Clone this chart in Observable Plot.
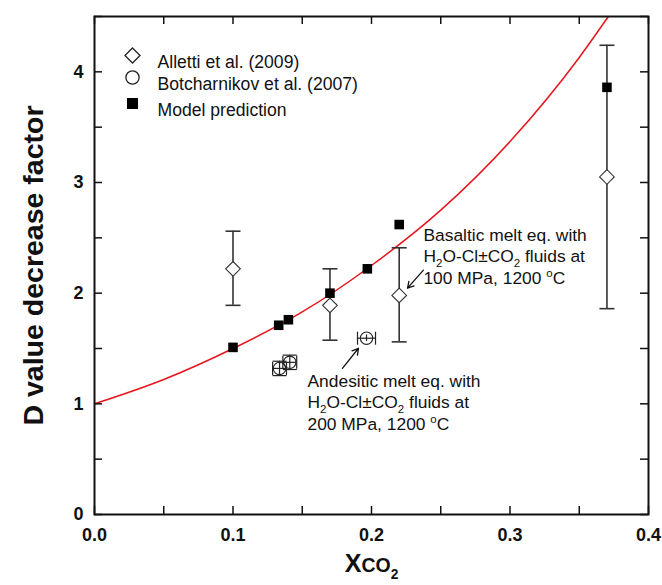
<!DOCTYPE html>
<html><head><meta charset="utf-8">
<script src="https://cdn.jsdelivr.net/npm/d3@7"></script>
<script src="https://cdn.jsdelivr.net/npm/@observablehq/plot@0.6"></script>
<style>body{margin:0;background:#fff} #chart{width:662px;height:585px}</style>
</head><body><div id="chart"></div>
<script>
// ---- data ----
const modelX = [0.10, 0.133, 0.14, 0.17, 0.197, 0.22, 0.37];
const modelY = [1.51, 1.71, 1.76, 2.00, 2.22, 2.62, 3.86];

const allettiX = [0.10, 0.17, 0.22, 0.37];
const allettiY = [2.22, 1.89, 1.98, 3.05];
const allettiLow = [1.89, 1.575, 1.56, 1.86];
const allettiHigh = [2.56, 2.22, 2.41, 4.24];

const botX = [0.1336, 0.141, 0.1964];
const botY = [1.32, 1.375, 1.593];
const botXErr = [0.005, 0.005, 0.0065];
const botYErr = [0.065, 0.065, 0.03];

const curveX = [0, 0.05, 0.10, 0.15, 0.20, 0.25, 0.30, 0.35, 0.371];
const curveY = [1.00, 1.22, 1.50, 1.83, 2.25, 2.75, 3.37, 4.13, 4.50];

const xTicks = [0, 0.05, 0.1, 0.15, 0.2, 0.25, 0.3, 0.35, 0.4];
const xTickLabels = [0, 0.1, 0.2, 0.3, 0.4];
const yTicks = [0, 0.5, 1, 1.5, 2, 2.5, 3, 3.5, 4, 4.5];
const yTickLabels = [0, 1, 2, 3, 4];

const legendLabels = ["Alletti et al. (2009)", "Botcharnikov et al. (2007)", "Model prediction"];
const xLabel = "X~{CO}_{2}";
const yLabel = "D value decrease factor";

const annoX = [0.2375, 0.1538];
const annoY = [2.525, 1.204];
const annoLines = [
  ["Basaltic melt eq. with", "H_{2}O-Cl±CO_{2} fluids at", "100 MPa, 1200 ^{o}C"],
  ["Andesitic melt eq. with", "H_{2}O-Cl±CO_{2} fluids at", "200 MPa, 1200 ^{o}C"]
];
const arrowX1 = [0.2375, 0.179];
const arrowY1 = [2.208, 1.321];
const arrowX2 = [0.226, 0.1906];
const arrowY2 = [2.045, 1.502];

// ---- tables ----
const model = modelX.map((x, i) => ({x, y: modelY[i]}));
const alletti = allettiX.map((x, i) => ({x, y: allettiY[i], lo: allettiLow[i], hi: allettiHigh[i]}));
const bot = botX.map((x, i) => ({x, y: botY[i], ex: botXErr[i], ey: botYErr[i]}));
const curve = curveX.map((x, i) => ({x, y: curveY[i]}));
const annos = annoX.map((x, i) => ({x, y: annoY[i], lines: annoLines[i]}));
const arrows = arrowX1.map((x, i) => ({x1: x, y1: arrowY1[i], x2: arrowX2[i], y2: arrowY2[i]}));

// ---- layout ----
const W = 662, H = 585;
const mL = 94, mR = 14, mT = 16, mB = 71;
const pW = W - mL - mR, pH = H - mT - mB;
const tickLen = 8;
const font = "Liberation Sans, Arial, Helvetica, sans-serif";

const hcap = {draw(ctx) { ctx.moveTo(-7.5, 0); ctx.lineTo(7.5, 0); }};
const hcapS = {draw(ctx) { ctx.moveTo(-7, 0); ctx.lineTo(7, 0); }};
const vcapS = {draw(ctx) { ctx.moveTo(0, -6.5); ctx.lineTo(0, 6.5); }};
const errColor = "#333";

const legendSymbols = [
  {symbol: "diamond2", r: 6.8, fill: "white"},
  {symbol: "circle", r: 6.6, fill: "white"},
  {symbol: "square", r: 6.2, fill: "black"}
];
const legendDy = [39, 61, 87];

const marks = [
  // curve
  Plot.line(curve, {x: "x", y: "y", curve: "monotone-x", stroke: "#e8141c", strokeWidth: 1.5, clip: true}),
  // Alletti error bars
  Plot.ruleX(alletti, {x: "x", y1: "lo", y2: "hi", stroke: errColor, strokeWidth: 1.6}),
  Plot.dot(alletti, {x: "x", y: "lo", symbol: hcap, stroke: errColor, strokeWidth: 1.6, fill: "none"}),
  Plot.dot(alletti, {x: "x", y: "hi", symbol: hcap, stroke: errColor, strokeWidth: 1.6, fill: "none"}),
  // Botcharnikov error bars
  Plot.ruleY(bot, {y: "y", x1: d => d.x - d.ex, x2: d => d.x + d.ex, stroke: "#222", strokeWidth: 1.2}),
  Plot.ruleX(bot, {x: "x", y1: d => d.y - d.ey, y2: d => d.y + d.ey, stroke: "#222", strokeWidth: 1.2}),
  Plot.dot(bot, {x: d => d.x - d.ex, y: "y", symbol: vcapS, stroke: "#222", strokeWidth: 1.2, fill: "none"}),
  Plot.dot(bot, {x: d => d.x + d.ex, y: "y", symbol: vcapS, stroke: "#222", strokeWidth: 1.2, fill: "none"}),
  Plot.dot(bot.filter(d => d.ey > 0.04), {x: "x", y: d => d.y - d.ey, symbol: hcapS, stroke: "#222", strokeWidth: 1.2, fill: "none"}),
  Plot.dot(bot.filter(d => d.ey > 0.04), {x: "x", y: d => d.y + d.ey, symbol: hcapS, stroke: "#222", strokeWidth: 1.2, fill: "none"}),
  Plot.dot(bot, {x: "x", y: "y", symbol: "circle", r: 6.2, stroke: "#222", strokeWidth: 1.1, fill: "white", fillOpacity: 0}),
  // Alletti diamonds
  Plot.dot(alletti, {x: "x", y: "y", symbol: "diamond2", r: 6.6, stroke: "#333", strokeWidth: 1.1, fill: "white"}),
  // model squares
  Plot.dot(model, {x: "x", y: "y", symbol: "square", r: 5.4, fill: "black", stroke: "none"}),
  // arrows
  Plot.arrow(arrows, {x1: "x1", y1: "y1", x2: "x2", y2: "y2", stroke: "#111", strokeWidth: 1.3, headLength: 8}),
  // annotation texts (one mark per line)
  ...[0, 1, 2].map(i => Plot.text(annos, {x: "x", y: "y", text: d => d.lines[i], dy: i * 21.5, textAnchor: "start", fontSize: 17.4, fontFamily: font, fill: "#111"})),
  // ticks (inward)
  Plot.tickX(xTicks, {x: d => d, insetTop: pH - tickLen, stroke: "#111", strokeWidth: 1.5}),
  Plot.tickX(xTicks, {x: d => d, insetBottom: pH - tickLen, stroke: "#111", strokeWidth: 1.5}),
  Plot.tickY(yTicks, {y: d => d, insetRight: pW - tickLen, stroke: "#111", strokeWidth: 1.5}),
  Plot.tickY(yTicks, {y: d => d, insetLeft: pW - tickLen, stroke: "#111", strokeWidth: 1.5}),
  Plot.frame({stroke: "#111", strokeWidth: 2}),
  // tick labels
  Plot.axisX(xTickLabels, {tickSize: 0, tickPadding: 14, fontSize: 18, fontWeight: "bold", fontFamily: font, tickFormat: d => d.toFixed(1), label: null, fill: "#111"}),
  Plot.axisY(yTickLabels, {tickSize: 0, tickPadding: 11, fontSize: 18, fontWeight: "bold", fontFamily: font, tickFormat: d => String(d), label: null, fill: "#111"}),
  // axis labels
  Plot.text([xLabel], {frameAnchor: "bottom", dy: 57, text: d => d, fontSize: 25, fontWeight: "bold", fontFamily: font, fill: "#111"}),
  Plot.text([yLabel], {frameAnchor: "left", dx: -61, rotate: -90, text: d => d, textAnchor: "middle", fontSize: 28.5, fontWeight: "bold", fontFamily: font, fill: "#111"}),
  // legend
  ...legendLabels.flatMap((lab, i) => [
    Plot.dot([lab], {frameAnchor: "top-left", dx: 38, dy: legendDy[i], symbol: legendSymbols[i].symbol, r: legendSymbols[i].r, fill: legendSymbols[i].fill, stroke: i === 2 ? "none" : "#222", strokeWidth: 1.3}),
    Plot.text([lab], {frameAnchor: "top-left", dx: 63, dy: legendDy[i], text: d => d, textAnchor: "start", fontSize: 17.6, fontFamily: font, fill: "#111"})
  ])
];

const chart = Plot.plot({
  width: W, height: H,
  marginLeft: mL, marginRight: mR, marginTop: mT, marginBottom: mB,
  x: {domain: [0, 0.4], axis: null},
  y: {domain: [0, 4.5], axis: null},
  style: {fontFamily: font, background: "white", overflow: "visible"},
  marks
});
document.getElementById("chart").appendChild(chart);

// ---- rich text: _{sub}, ^{sup}, ~{smaller} ----
const NS = "http://www.w3.org/2000/svg";
function richify(root) {
  root.querySelectorAll("text").forEach(t => {
    const targets = t.querySelector("tspan") ? [...t.querySelectorAll("tspan")] : [t];
    targets.forEach(el => {
      const s = el.textContent;
      if (!/[_^~]\{/.test(s)) return;
      const base = parseFloat(getComputedStyle(el).fontSize) || 16;
      const re = /([_^~])\{([^}]*)\}/g;
      const segs = [];
      let last = 0, m;
      while ((m = re.exec(s))) {
        if (m.index > last) segs.push({kind: "", txt: s.slice(last, m.index)});
        segs.push({kind: m[1], txt: m[2]});
        last = re.lastIndex;
      }
      if (last < s.length) segs.push({kind: "", txt: s.slice(last)});
      el.textContent = "";
      let cur = 0;
      let prevKind = "";
      segs.forEach(seg => {
        let size = base, off = 0;
        if (seg.kind === "_") {
          size = prevKind === "~" ? base * 0.55 : base * 0.66;
          off = base * 0.28;
        } else if (seg.kind === "^") { size = base * 0.66; off = -base * 0.4; }
        else if (seg.kind === "~") { size = base * 0.78; off = 0; }
        const ts = document.createElementNS(NS, "tspan");
        ts.textContent = seg.txt;
        ts.setAttribute("font-size", size);
        if (off - cur !== 0) ts.setAttribute("dy", off - cur);
        cur = off;
        prevKind = seg.kind;
        el.appendChild(ts);
      });
    });
  });
}
richify(chart);
</script>
</body></html>
